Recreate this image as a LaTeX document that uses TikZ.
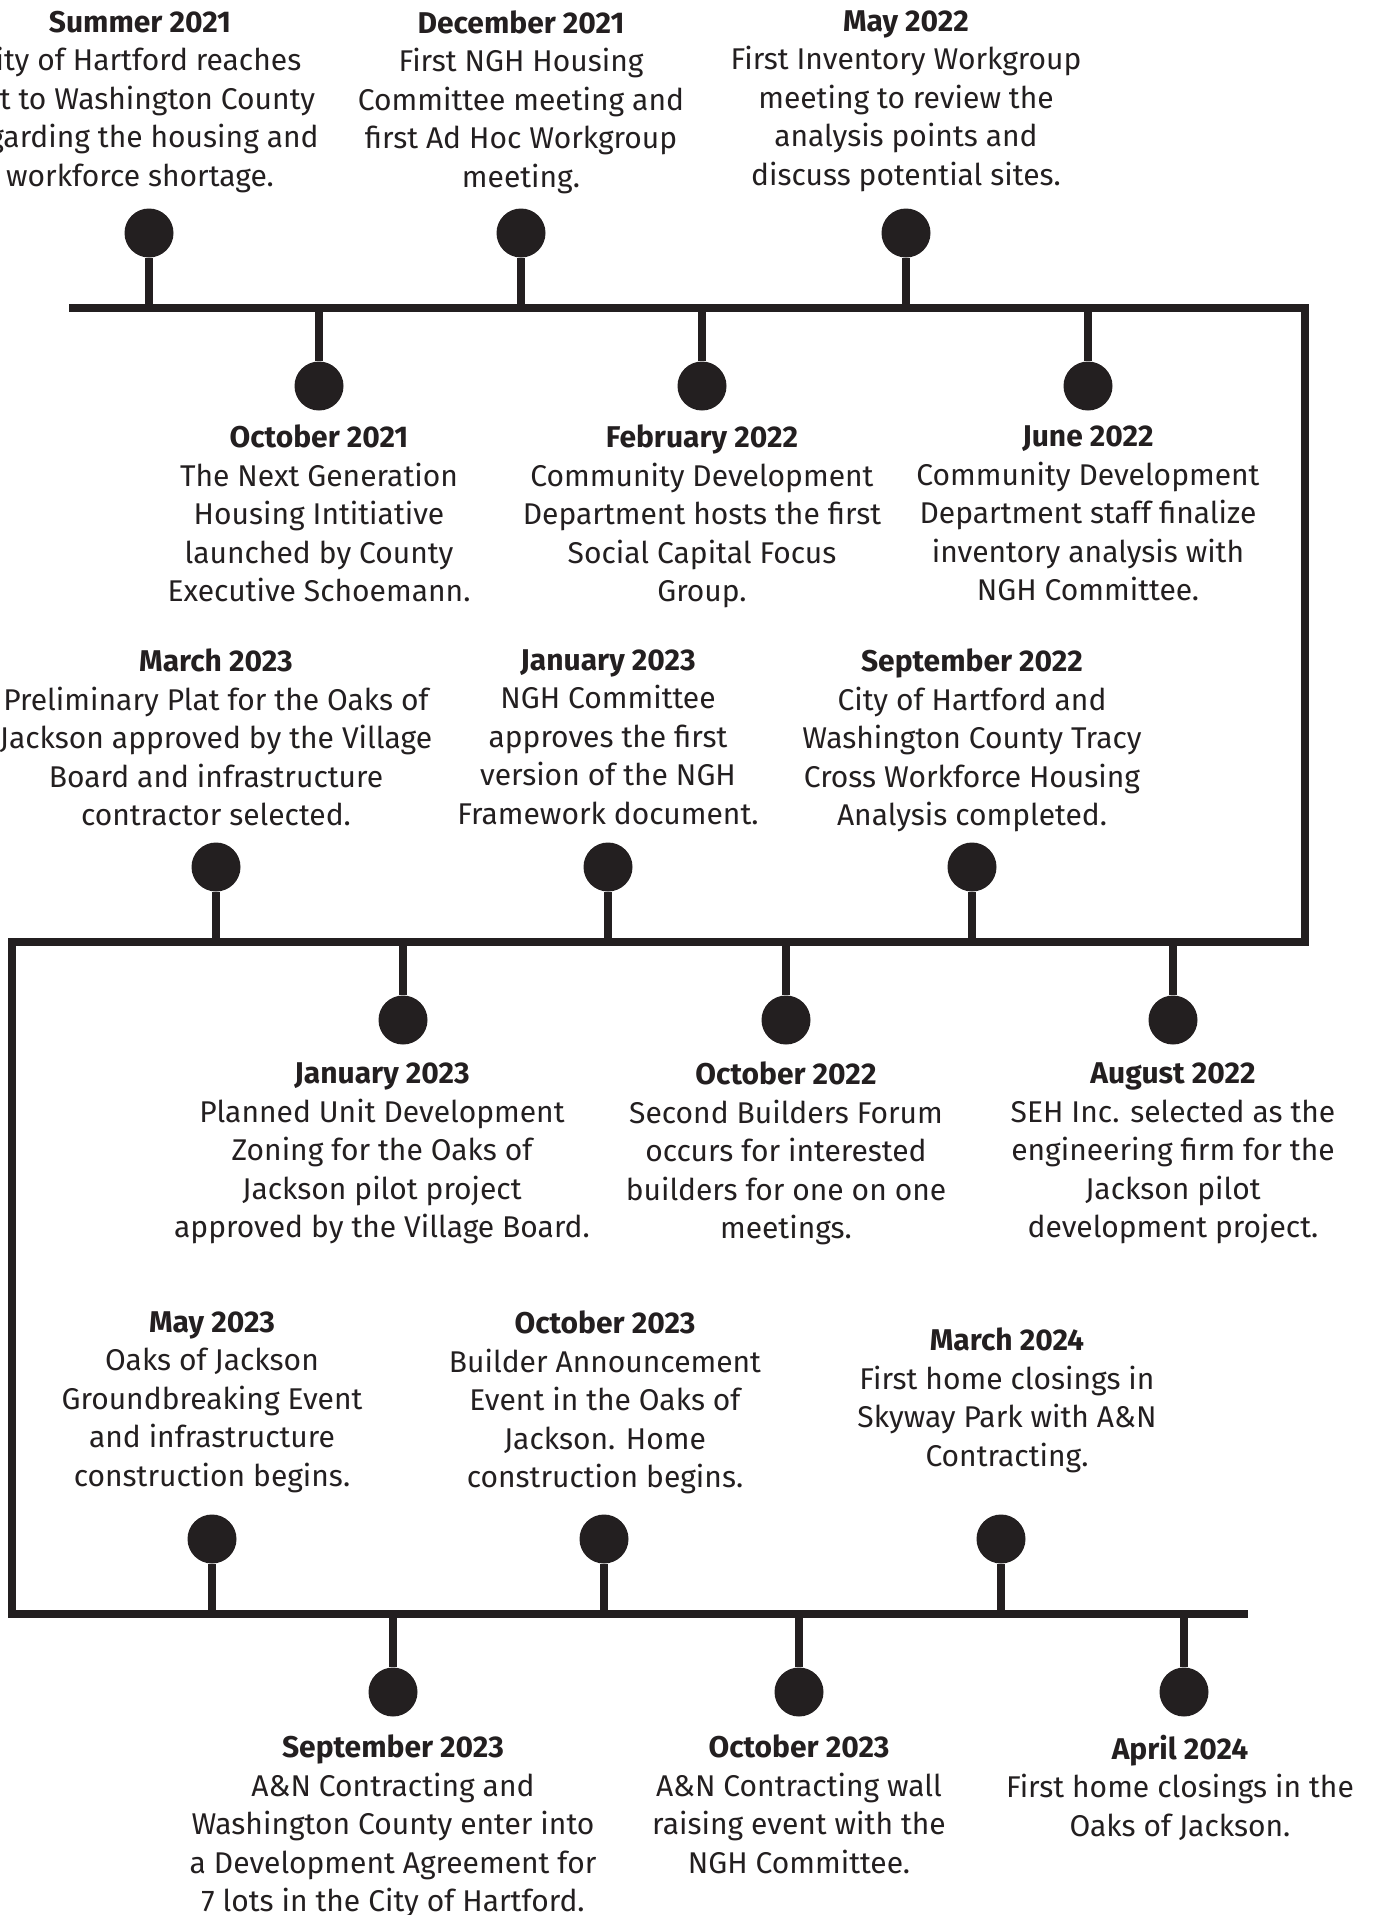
\documentclass[tikz,border=0pt]{standalone}
\usepackage{fontspec}
\setmainfont{Fira Sans}
\usetikzlibrary{positioning}
\definecolor{ink}{HTML}{231F20}

\begin{document}
\begin{tikzpicture}[x=1pt, y=-1pt, ink, node distance=18pt,
    rail/.style={line width=8pt, line join=miter},
    stem/.style={line width=8pt},
    dot/.style={circle, fill=ink, inner sep=0pt, minimum size=49pt},
    event/.style={align=center, anchor=north, inner sep=0pt, text=ink,
      font=\fontsize{30}{38.5}\selectfont}]
    \useasboundingbox (0,0) rectangle (1375,1915);

    % the zig-zag timeline
    \coordinate (r1w) at (69,308);
    \coordinate (r1e) at (1304.5,308);
    \coordinate (r2e) at (1304.5,942);
    \coordinate (r2w) at (11.5,942);
    \coordinate (r3w) at (11.5,1613.5);
    \coordinate (r3e) at (1248,1613.5);
    \draw[rail] (r1w) -- (r1e) -- (r2e) -- (r2w) -- (r3w) -- (r3e);

    % dots
    \node[dot] (sum21) at (149,233) {};
    \node[dot] (dec21) at (521,233) {};
    \node[dot] (may22) at (906,233) {};
    \node[dot] (oct21) at (319,386) {};
    \node[dot] (feb22) at (702,386) {};
    \node[dot] (jun22) at (1088,386) {};
    \node[dot] (mar23) at (216,867) {};
    \node[dot] (jan23a) at (608,867) {};
    \node[dot] (sep22) at (972,867) {};
    \node[dot] (jan23b) at (403,1020) {};
    \node[dot] (oct22) at (786,1020) {};
    \node[dot] (aug22) at (1173,1020) {};
    \node[dot] (may23) at (212,1539) {};
    \node[dot] (oct23a) at (604,1539) {};
    \node[dot] (mar24) at (1001,1539) {};
    \node[dot] (sep23) at (393,1692) {};
    \node[dot] (oct23b) at (799,1692) {};
    \node[dot] (apr24) at (1184,1692) {};

    % stems
    \draw[stem] (sum21) -- (sum21 |- r1w);
    \draw[stem] (dec21) -- (dec21 |- r1w);
    \draw[stem] (may22) -- (may22 |- r1w);
    \draw[stem] (oct21) -- (oct21 |- r1w);
    \draw[stem] (feb22) -- (feb22 |- r1w);
    \draw[stem] (jun22) -- (jun22 |- r1w);
    \draw[stem] (mar23) -- (mar23 |- r2w);
    \draw[stem] (jan23a) -- (jan23a |- r2w);
    \draw[stem] (sep22) -- (sep22 |- r2w);
    \draw[stem] (jan23b) -- (jan23b |- r2w);
    \draw[stem] (oct22) -- (oct22 |- r2w);
    \draw[stem] (aug22) -- (aug22 |- r2w);
    \draw[stem] (may23) -- (may23 |- r3w);
    \draw[stem] (oct23a) -- (oct23a |- r3w);
    \draw[stem] (mar24) -- (mar24 |- r3w);
    \draw[stem] (sep23) -- (sep23 |- r3w);
    \draw[stem] (oct23b) -- (oct23b |- r3w);
    \draw[stem] (apr24) -- (apr24 |- r3w);

    % texts above the first line
    \node[event] (t-sum21) at (140,10.5) {\textbf{Summer 2021}\\City of Hartford reaches\\out to Washington County\\regarding the housing and\\workforce shortage.};
    \node[event] (t-dec21) at (521,10.5) {\textbf{December 2021}\\First NGH Housing\\Committee meeting and\\first Ad Hoc Workgroup\\meeting.};
    \node[event] (t-may22) at (906,10.5) {\textbf{May 2022}\\First Inventory Workgroup\\meeting to review the\\analysis points and\\discuss potential sites.};

    % texts below the first line
    \node[event] (t-oct21) [below=14pt of oct21] {\textbf{October 2021}\\The Next Generation\\Housing Intitiative\\launched by County\\Executive Schoemann.};
    \node[event] (t-feb22) [below=14pt of feb22] {\textbf{February 2022}\\Community Development\\Department hosts the first\\Social Capital Focus\\Group.};
    \node[event] (t-jun22) [below=15pt of jun22] {\textbf{June 2022}\\Community Development\\Department staff finalize\\inventory analysis with\\NGH Committee.};

    % texts above the second line
    \node[event] (t-mar23) at (216,649) {\textbf{March 2023}\\Preliminary Plat for the Oaks of\\Jackson approved by the Village\\Board and infrastructure\\contractor selected.};
    \node[event] (t-jan23a) at (608,649) {\textbf{January 2023}\\NGH Committee\\approves the first\\version of the NGH\\Framework document.};
    \node[event] (t-sep22) at (972,649) {\textbf{September 2022}\\City of Hartford and\\Washington County Tracy\\Cross Workforce Housing\\Analysis completed.};

    % texts below the second line
    \node[event] (t-jan23b) [below=of jan23b, xshift=-21pt] {\textbf{January 2023}\\Planned Unit Development\\Zoning for the Oaks of\\Jackson pilot project\\approved by the Village Board.};
    \node[event] (t-oct22) [below=17pt of oct22] {\textbf{October 2022}\\Second Builders Forum\\occurs for interested\\builders for one on one\\meetings.};
    \node[event] (t-aug22) [below=of aug22] {\textbf{August 2022}\\SEH Inc. selected as the\\engineering firm for the\\Jackson pilot\\development project.};

    % texts above the third line
    \node[event] (t-may23) at (212,1311) {\textbf{May 2023}\\Oaks of Jackson\\Groundbreaking Event\\and infrastructure\\construction begins.};
    \node[event] (t-oct23a) at (605,1311) {\textbf{October 2023}\\Builder Announcement\\Event in the Oaks of\\Jackson. Home\\construction begins.};
    \node[event] (t-mar24) at (1007,1328) {\textbf{March 2024}\\First home closings in\\Skyway Park with A\&N\\Contracting.};

    % texts below the third line
    \node[event] (t-sep23) [below=of sep23] {\textbf{September 2023}\\A\&N Contracting and\\Washington County enter into\\a Development Agreement for\\7 lots in the City of Hartford.};
    \node[event] (t-oct23b) [below=of oct23b] {\textbf{October 2023}\\A\&N Contracting wall\\raising event with the\\NGH Committee.};
    \node[event] (t-apr24) [below=of apr24, xshift=-4pt] {\textbf{April 2024}\\First home closings in the\\Oaks of Jackson.};
\end{tikzpicture}
\end{document}
